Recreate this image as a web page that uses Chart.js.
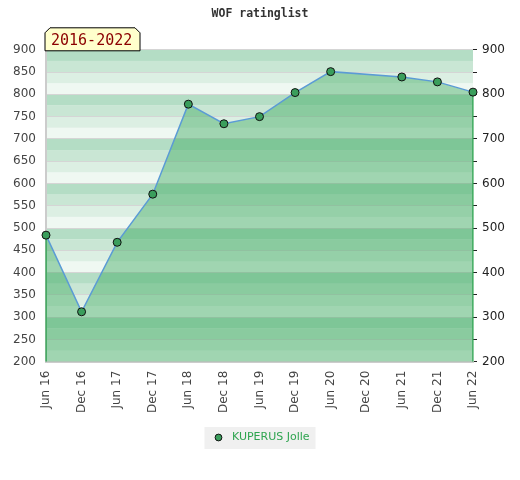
<!DOCTYPE html>
<html>
<head>
<meta charset="utf-8">
<script src="https://cdn.jsdelivr.net/npm/chart.js@4"></script>
<style>
html,body{margin:0;padding:0;background:#fff;}
#wrap{width:520px;height:480px;}
</style>
</head>
<body>
<div id="wrap"><canvas id="c" width="520" height="480"></canvas></div>
<script>
const categories = ['Jun 16','Dec 16','Jun 17','Dec 17','Jun 18','Dec 18','Jun 19','Dec 19','Jun 20','Dec 20','Jun 21','Dec 21','Jun 22'];
const ratings = [484, 312, 468, 576, 778, 734, 750, 804, 851, null, 839, 828, 805];
const seriesName = 'KUPERUS Jolle';
const chartTitle = 'WOF ratinglist';
const periodLabel = '2016-2022';
const yMin = 200, yMax = 900;

const firstIdx = ratings.findIndex(v => v !== null);
let lastIdx = ratings.length - 1; while (ratings[lastIdx] === null) lastIdx--;

// small marker image for the legend
const legendDot = document.createElement('canvas');
legendDot.width = 9; legendDot.height = 9;
(function () {
  const g = legendDot.getContext('2d');
  g.beginPath(); g.arc(4.5, 4.5, 3.4, 0, Math.PI * 2);
  g.fillStyle = '#3a9e5c'; g.fill();
  g.lineWidth = 1; g.strokeStyle = '#111'; g.stroke();
})();

const stripePlugin = {
  id: 'stripes',
  beforeDraw(chart) {
    const {ctx, chartArea: a, scales: {y}} = chart;
    const cols = ['#eff8f2', '#dcefe3', '#c9e6d4', '#b4ddc5'];
    ctx.save();
    for (let v = yMin; v < yMax; v += 25) {
      const k = ((v - yMin) / 25) % 4;
      const top = y.getPixelForValue(v + 25), bot = y.getPixelForValue(v);
      ctx.fillStyle = cols[k];
      ctx.fillRect(a.left, top, a.right - a.left, bot - top);
    }
    const lg = chart.legend;
    if (lg && lg.legendHitBoxes && lg.legendHitBoxes.length) {
      const hb = lg.legendHitBoxes[0];
      ctx.fillStyle = '#f0f0f0';
      ctx.fillRect(hb.left - 6, hb.top - 5, hb.width + 12, hb.height + 11);
    }
    ctx.restore();
  },
  afterDraw(chart) {
    const {ctx, chartArea: a} = chart;
    const x0 = a.left - 1, x1 = a.left + 94, y0 = a.top - 22, y1 = a.top + 1, c = 5;
    ctx.save();
    ctx.beginPath();
    ctx.moveTo(x0, y1);
    ctx.lineTo(x0, y0 + c);
    ctx.lineTo(x0 + c, y0);
    ctx.lineTo(x1 - c, y0);
    ctx.lineTo(x1, y0 + c);
    ctx.lineTo(x1, y1);
    ctx.closePath();
    ctx.fillStyle = '#ffffcc';
    ctx.fill();
    ctx.lineWidth = 1;
    ctx.strokeStyle = '#000';
    ctx.stroke();
    ctx.fillStyle = '#8b0000';
    ctx.font = '15px "DejaVu Sans Mono"';
    ctx.textBaseline = 'alphabetic';
    ctx.fillText(periodLabel, x0 + 6, y1 - 6);
    ctx.restore();
  }
};

const edgeColor = '#2ea44f';
new Chart(document.getElementById('c'), {
  type: 'line',
  data: {
    labels: categories,
    datasets: [
      {
        label: seriesName,
        data: ratings,
        spanGaps: true,
        fill: 'start',
        backgroundColor: 'rgba(55,166,91,0.43)',
        borderColor: '#5b9bd5',
        borderWidth: 1.5,
        tension: 0,
        pointRadius: 4,
        pointHoverRadius: 4,
        pointBackgroundColor: '#3a9e5c',
        pointBorderColor: '#111',
        pointBorderWidth: 1,
        pointStyle: 'circle',
        yAxisID: 'y'
      },
      {
        label: '_edgeL',
        data: [{x: categories[firstIdx], y: ratings[firstIdx]}, {x: categories[firstIdx], y: yMin}],
        borderColor: edgeColor, borderWidth: 1.5, pointRadius: 0, fill: false, yAxisID: 'y'
      },
      {
        label: '_edgeR',
        data: [{x: categories[lastIdx], y: ratings[lastIdx]}, {x: categories[lastIdx], y: yMin}],
        borderColor: edgeColor, borderWidth: 1.5, pointRadius: 0, fill: false, yAxisID: 'y'
      }
    ]
  },
  options: {
    responsive: false,
    animation: false,
    layout: {padding: {left: 10, right: 10, top: 0, bottom: 27}},
    plugins: {
      title: {
        display: true, text: chartTitle, color: '#333',
        font: {family: '"DejaVu Sans Mono"', size: 11.5, weight: 'bold'},
        padding: {top: 7, bottom: 29}
      },
      legend: {
        position: 'bottom',
        labels: {
          filter: item => !item.text.startsWith('_'),
          generateLabels: chart => [{
            text: seriesName, datasetIndex: 0, pointStyle: legendDot,
            fontColor: '#2ea44f', hidden: false, lineWidth: 0
          }],
          usePointStyle: true, pointStyleWidth: 16, boxHeight: 9,
          color: '#2ea44f', font: {family: '"DejaVu Sans"', size: 11}, padding: 10
        }
      },
      tooltip: {enabled: false}
    },
    scales: {
      x: {
        type: 'category',
        offset: false,
        grid: {display: false, drawTicks: false},
        border: {display: true, color: '#cccccc', width: 2},
        ticks: {minRotation: 90, maxRotation: 90, color: '#444', padding: 9, autoSkip: false,
          font: {family: '"DejaVu Sans"', size: 12}}
      },
      y: {
        position: 'left', min: yMin, max: yMax,
        afterFit: s => { s.width = 36; },
        grid: {color: '#d5d5d5', lineWidth: 1, drawTicks: false},
        border: {display: true, color: '#cccccc', width: 2},
        ticks: {stepSize: 50, color: '#444', padding: 10, font: {family: '"DejaVu Sans"', size: 12}}
      },
      y1: {
        position: 'right', min: yMin, max: yMax,
        afterFit: s => { s.width = 37; },
        grid: {drawOnChartArea: false, color: '#222', tickLength: 4, tickWidth: 1},
        border: {display: false},
        ticks: {stepSize: 50, color: '#222', padding: 5, font: {family: '"DejaVu Sans"', size: 12},
          callback: v => (v % 100 === 0 ? v : '')}
      }
    }
  },
  plugins: [stripePlugin]
});
</script>
</body>
</html>
